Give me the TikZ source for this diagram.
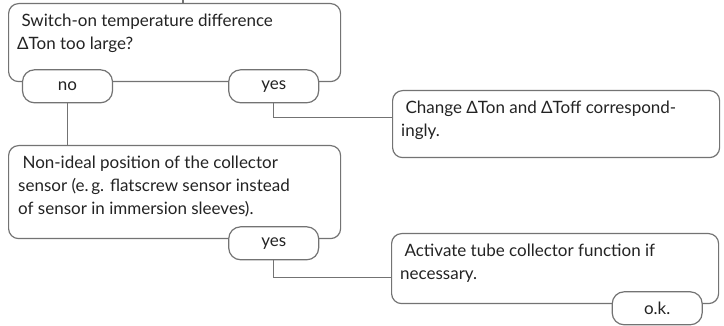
\documentclass[tikz,border=0pt]{standalone}
\usepackage{fontspec}
\setmainfont{Lato}
\usetikzlibrary{positioning}
\definecolor{framegray}{RGB}{115, 115, 115}
\definecolor{inkblack}{RGB}{35, 35, 35}

\begin{document}
\begin{tikzpicture}[x=1pt, y=1pt,
            box/.style={draw=framegray, line width=1.2pt, rounded corners=10pt, anchor=north west, inner sep=0pt},
            boxtext/.style={anchor=north west, inner sep=0pt, align=left, text=inkblack, font=\fontsize{17}{23.3}\selectfont},
            pill/.style={draw=framegray, line width=1.2pt, fill=white, rounded corners=12pt, minimum width=90pt, minimum height=33pt, anchor=north, yshift=13pt, text=inkblack, font=\fontsize{17}{20}\selectfont},
            link/.style={draw=framegray, line width=1.2pt}
        ]
            \useasboundingbox (0,0) rectangle (724,326);

            % question boxes
            \node[box, minimum width=332pt, minimum height=78pt] (q1) at (8,323) {};
            \node[box, minimum width=332pt, minimum height=93pt] (q2) at (8,181) {};
            \node[box, minimum width=327pt, minimum height=67pt] (q3) at (392,236) {};
            \node[box, minimum width=327pt, minimum height=70pt] (q4) at (391,93) {};

            \node[boxtext] (q1text) at ([xshift=9pt, yshift=-10.5pt]q1.north west) {\ Switch-on temperature difference\\ΔTon too large?};
            \node[boxtext] (q2text) at ([xshift=10pt, yshift=-10.5pt]q2.north west) {\ Non-ideal position of the collector\\sensor (e.\,g. flatscrew sensor instead\\of sensor in immersion sleeves).};
            \node[boxtext] (q3text) at ([xshift=9pt, yshift=-10.5pt]q3.north west) {\ Change ΔTon and ΔToff correspond-\\ingly.};
            \node[boxtext] (q4text) at ([xshift=9pt, yshift=-10.5pt]q4.north west) {\ Activate tube collector function if\\necessary.};

            % answers
            \node[pill] (no1) at ([xshift=59.5pt]q1.south west) {no};
            \node[pill] (yes1) at ([xshift=-67.5pt]q1.south east) {yes};
            \node[pill] (yes2) at ([xshift=-67.5pt]q2.south east) {yes};
            \node[pill] (ok4) at ([xshift=-62pt]q4.south east) {o.k.};

            \coordinate (feed) at (183,326);
            \draw[link] (feed) -- (feed |- q1.north);
            \draw[link] (no1.south) -- (no1.south |- q2.north);
            \draw[link] (yes1.south) |- ([yshift=6.5pt]q3.west);
            \draw[link] (yes2.south) |- ([yshift=-9pt]q4.west);
        \end{tikzpicture}
\end{document}
